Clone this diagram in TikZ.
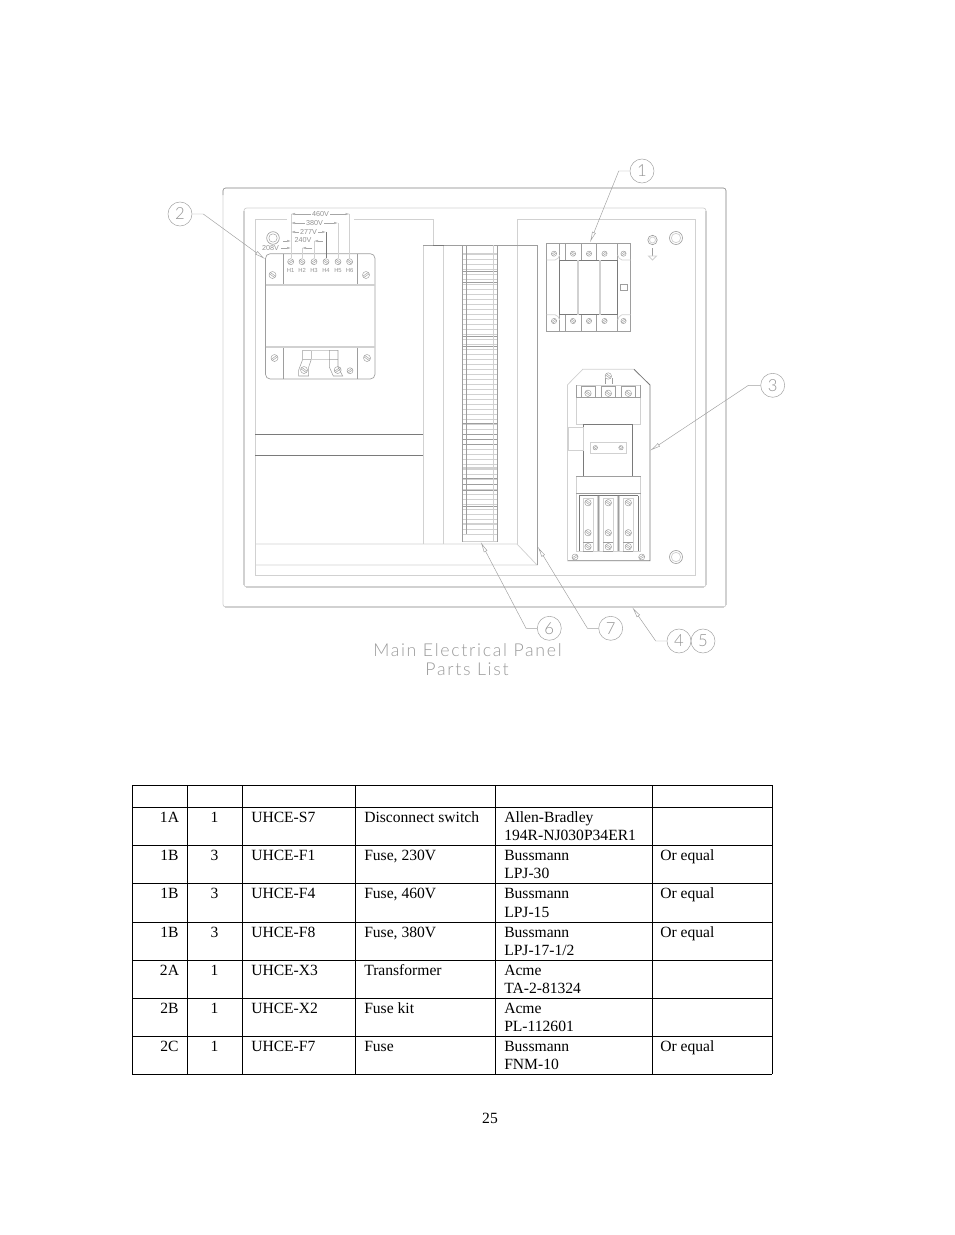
\documentclass[tikz,border=0pt]{standalone}
\usepackage{fontspec}
\usetikzlibrary{arrows.meta}
\setmainfont{Liberation Serif}
\newfontfamily\cadfont{Lato Light}[LetterSpace=9.5]
\newfontfamily\cadnum{Lato Light}
\newfontfamily\cadsmall{Liberation Sans}
\definecolor{lgray}{gray}{0.82}
\definecolor{mgray}{gray}{0.62}
\definecolor{dgray}{gray}{0.48}
\tikzset{
  pl/.style={draw=lgray,line width=.55pt},
  plt/.style={draw=lgray,line width=1.1pt},
  pm/.style={draw=mgray,line width=.5pt},
  pd/.style={draw=dgray,line width=.6pt},
  leader/.style={draw=gray!75,line width=.35pt,-{Latex[open,length=8pt,width=3pt]}},
  callout/.style={circle,draw=gray!70,line width=.4pt,minimum size=18pt,inner sep=0pt,text=gray!85,font=\cadnum\fontsize{12.5}{13}\selectfont},
  cell/.style={anchor=base west,inner sep=0pt,font=\fontsize{11.7}{12}\selectfont},
  ccell/.style={anchor=base,inner sep=0pt,font=\fontsize{11.7}{12}\selectfont},
  tline/.style={draw=black,line width=.6pt},
  vlab/.style={inner sep=.8pt,fill=white,text=gray!85,font=\cadsmall\fontsize{5.4}{6}\selectfont},
  hlab/.style={anchor=base,inner sep=0pt,text=gray!85,font=\cadsmall\fontsize{4.4}{5}\selectfont},
  wlab/.style={inner sep=0pt,text=gray!85,font=\cadsmall\fontsize{5.4}{6}\selectfont},
  title/.style={inner sep=0pt,text=gray!80,font=\cadfont\fontsize{13.3}{14}\selectfont},
  dimarrow/.style={draw=gray!70,line width=.35pt,{Latex[open,length=3pt,width=1.8pt]}-{Latex[open,length=3pt,width=1.8pt]}},
  dimone/.style={draw=gray!70,line width=.35pt,-{Latex[open,length=3pt,width=1.8pt]}}
}
\newcommand{\scr}[4][3]{\draw[pm,line width=.35pt] (#2,#3) circle (#1);
  \begin{scope}[shift={(#2,#3)},rotate=#4]
  \draw[mgray,line width=.35pt] (-#1,-.8) -- (#1,-.8) (-#1,.8) -- (#1,.8);
  \end{scope}}
\begin{document}
\begin{tikzpicture}[x=.75pt,y=-.75pt]
\useasboundingbox (0,0) rectangle (954,1235);
% enclosure
\draw[pl,rounded corners=2pt] (223,607) -- (223,188) -- (726,188) -- (726,607) -- cycle;
\draw[pm,rounded corners=2pt] (223,195) -- (223,188) -- (726,188) -- (726,195);
\draw[plt] (225,607) -- (724,607);
\draw[plt] (726,192) -- (726,605);
\draw[pl,rounded corners=2pt] (244,587) -- (244,208) -- (706,208) -- (706,587) -- cycle;
\draw[plt] (246,587) -- (704,587);
\draw[plt] (706,211) -- (706,585);
\draw[plt] (244,211) -- (244,585);
% backplate
\draw[pl] (287,219) -- (255,219) -- (255,575) -- (695,575) -- (695,219) -- (517,219) -- (517,245);
\draw[pl] (354,219) -- (433,219) -- (433,245);
\draw[pd] (255,434.5) -- (423,434.5) (255,455.5) -- (423,455.5);
\draw[pl] (255,544) -- (517,544) -- (537,565) -- (255,565);
% duct
\draw[pl] (423,245) -- (423,544) (443.5,245) -- (443.5,544) (517,245) -- (517,544);
\draw[pm] (423,245) -- (537,245) -- (537,565);
\draw[pd,line width=.7pt] (433,245) -- (444,245);
\foreach \yy in {254,259,...,534} \draw[pl,line width=.45pt] (462.5,\yy) -- (497.3,\yy);
\draw[plt,line width=2pt] (462.5,254) -- (497.3,254) (462.5,468) -- (497.3,468) (462.5,524) -- (497.3,524);
\foreach \yy in {271,282,336,346,423,434,439,444,478,484,490,506} \draw[pm,line width=.45pt] (462.5,\yy) -- (497.3,\yy);
\draw[pl] (462.5,541.7) -- (497.3,541.7) (493,245) -- (493,541.7);
\draw[pm] (462.5,245) -- (462.5,541.7) (466.5,245) -- (466.5,534) (497.3,245) -- (497.3,541.7);
% transformer
\draw[pm,rounded corners=3.5pt] (265.5,253.7) rectangle (375,379);
\draw[pm] (283,253.7) -- (283,285) (357,253.7) -- (357,285) (283,347) -- (283,379) (357,347) -- (357,379);
\draw[pl,line width=1pt] (265.5,285) -- (375,285) (265.5,347) -- (375,347);
\foreach \xx/\aa in {290.7/30,302/-35,314/30,326/-35,338/-35,349.6/-35} \scr{\xx}{261.7}{\aa};
\node[hlab] (h1) at (290.7,272) {H1};
\node[hlab] (h2) at (302.2,272) {H2};
\node[hlab] (h3) at (314,272) {H3};
\node[hlab] (h4) at (326,272) {H4};
\node[hlab] (h5) at (338,272) {H5};
\node[hlab] (h6) at (349.6,272) {H6};
\scr[3.5]{272.5}{275}{-35}
\scr[3.5]{366}{275}{35}
\scr[3.5]{274.5}{358}{35}
\scr[3.5]{367}{358}{-35}
\draw[pm,line width=.4pt] (302.7,359.3) -- (302.7,350.3) -- (311.3,350.3) -- (311.3,359.3) (302.7,359.3) -- (311.3,359.3) -- (308.7,367) -- (308.7,376) -- (298.7,376) -- (298.7,370) -- cycle;
\draw[pm,line width=.4pt] (329.3,359.3) -- (329.3,350.3) -- (338,350.3) -- (338,359.3) (329.3,359.3) -- (338,359.3) -- (338,367) -- (342.7,376) -- (333.3,376) -- (329.3,367) -- cycle;
\draw[pl] (311.3,350.3) -- (329.3,350.3) (311.3,359.3) -- (329.3,359.3);
\scr[3.5]{304}{370}{-35}
\scr[3.5]{337.7}{370}{35}
\scr[3]{350}{370.7}{35}
% nut and voltage dimensions
\draw[pm] (273,238) circle (6.3);
\draw[pm,line width=.35pt] (273,238) circle (4.2);
\foreach \xx/\yy in {291/214,302/248,314/241,338/223,349.6/214} \draw[pl] (\xx,\yy) -- (\xx,258);
\draw[pl] (291,214) -- (291,258);
\draw[pd] (326,232) -- (326,258);
\draw[dimarrow] (291,214) -- (349.6,214);
\draw[dimarrow] (291,223) -- (338,223);
\draw[dimarrow] (291,232) -- (326,232);
\draw[dimone] (283,241) -- (291,241);
\draw[dimone] (323,241) -- (314,241);
\draw[dimone] (312,248) -- (302,248);
\draw[dimone] (281,248) -- (291,248);
\node[vlab] (v460) at (320.5,214.5) {460V};
\node[vlab] (v380) at (314.5,223.5) {380V};
\node[vlab] (v277) at (308.5,232) {277V};
\node[wlab] (v240) at (303,240.5) {240V};
\node[wlab] (v208) at (270.5,248.5) {208V};
% disconnect switch
\draw[pm] (546.7,243.3) rectangle (630.7,331.7);
\draw[pd,line width=.7pt] (559.7,260) rectangle (617.7,314.7);
\draw[pl,line width=.9pt] (578,260) -- (578,314.7) (600,260) -- (600,314.7);
\foreach \xx in {559.7,565.5,581.3,596.7,617.7}{\draw[pm] (\xx,243.3) -- (\xx,260) (\xx,314.7) -- (\xx,331.7);}
\draw[pl] (546.7,260) -- (555,260) to[bend right=30] (559.7,255);
\draw[pl] (630.7,260) -- (622,260) to[bend left=30] (617.7,255);
\draw[pl] (546.7,314.7) -- (555,314.7) to[bend left=30] (559.7,320);
\draw[pl] (630.7,314.7) -- (622,314.7) to[bend right=30] (617.7,320);
\foreach \xx/\aa in {554/35,573/-35,589/35,604.5/35,623.5/35}{\scr[2.6]{\xx}{253.7}{\aa}\scr[2.6]{\xx}{321}{\aa}}
\draw[pm] (620.3,284) rectangle (627,290.5);
% ground and bushing
\draw[pm] (652.5,240) circle (4.7);
\draw[pl] (652.5,240) circle (3);
\draw[pm] (652.5,248) -- (652.5,256);
\draw[pl] (648.5,256) -- (656.5,256) -- (652.5,260) -- cycle;
\draw[pm] (676,238) circle (6.5);
\draw[pl] (676,238) circle (4.7);
% starter
\draw[pl] (567.3,385) -- (582.7,369.3) -- (634,369.3);
\draw[pd] (634,369.3) -- (650,385) -- (650,560.7) -- (567.3,560.7);
\draw[pl] (567.3,385) -- (567.3,560.7);
\draw[pl] (576.3,385) rectangle (640.7,424);
\draw[pm] (576.3,397.7) -- (640.7,397.7) (576.3,385) -- (576.3,397.7) (640.7,385) -- (640.7,397.7);
\foreach \xx in {588,608.3,628.3}{\draw[pm,line width=.4pt] (\xx-7,386) -- (\xx-7,397.7) (\xx+7,386) -- (\xx+7,397.7) (\xx-7,386) -- (\xx+7,386); \scr[3.2]{\xx}{393.3}{-35}}
\scr[3.2]{608.3}{376}{-35}
\draw[pm] (605,378) -- (605,384) (612,378) -- (612,384);
\draw[pd] (583.3,424) -- (583.3,476.7) (632.7,424) -- (632.7,476.7) (583.3,424) -- (632.7,424);
\draw[pl] (568.3,427.3) rectangle (583.3,450);
\draw[pl] (590.7,442.3) rectangle (626.7,453.3);
\scr[2.2]{595.3}{447.7}{30}
\scr[2.2]{621}{447.7}{-30}
\draw[pl] (576.3,476.7) rectangle (640.7,551.3);
\draw[pm] (576.3,476.7) -- (640.7,476.7) (576.3,493.3) -- (640.7,493.3);
\draw[pd] (579.3,495.7) -- (638.3,495.7) (579.3,495.7) -- (579.3,551.3) (638.3,495.7) -- (638.3,551.3);
\foreach \xx in {597.3,599.3,617.7,619.3} \draw[pl] (\xx,495.7) -- (\xx,551.3);
\draw[pm] (598,495.7) -- (598,551.3) (618.5,495.7) -- (618.5,551.3);
\foreach \xx in {588,608.3,628.3}{
  \draw[pl] (\xx-5,498) -- (\xx+5,498) -- (\xx+5,551.3) (\xx-5,498) -- (\xx-5,551.3);
  \draw[pm,line width=.4pt] (\xx-5,542) -- (\xx+5,542) (\xx-5,551) -- (\xx+5,551);
  \scr[3.2]{\xx}{502.7}{-35}
  \scr[3.2]{\xx}{532.7}{-35}
  \scr[3.2]{\xx}{546.7}{-35}}
\scr[3]{575}{557}{30}
\scr[3]{641.7}{557}{30}
\draw[pm] (676,557) circle (6.5);
\draw[pl] (676,557) circle (4.7);
% callouts
\node[callout] (c1) at (642,171) {1};
\node[callout] (c2) at (180,214) {2};
\node[callout] (c3) at (772.7,385.3) {3};
\node[callout] (c4) at (679,641) {4};
\node[callout] (c5) at (703,641) {5};
\node[callout] (c6) at (549.3,628.3) {6};
\node[callout] (c7) at (610.7,628.3) {7};
\coordinate (t1) at (590,242.3);
\coordinate (t2) at (265,259);
\coordinate (t3) at (650,450.7);
\coordinate (t4) at (632.3,607.3);
\coordinate (t6) at (480.7,542);
\coordinate (t7) at (537.7,546.7);
\draw[leader] (c1.west) -- ++(-11,0) -- (t1);
\draw[leader] (c2.east) -- ++(11,0) -- (t2);
\draw[leader] (c3.west) -- ++(-12,0) -- (t3);
\draw[leader] (c4.west) -- ++(-11,0) -- (t4);
\draw[leader] (c6.west) -- ++(-11,0) -- (t6);
\draw[leader] (c7.west) -- ++(-11,0) -- (t7);
% title
\node[title] (ttl1) at (467.5,650) {Main Electrical Panel};
\node[title] (ttl2) at (467,669) {Parts List};
% table
\foreach \xx in {132,187.3,242.7,355.7,495.7,652.3,772.3} \draw[tline] (\xx,785.3) -- (\xx,1074.3);
\foreach \yy in {785.3,807.3,845,883.3,922.3,960.3,998.3,1036.7,1074.3} \draw[tline] (132,\yy) -- (772.3,\yy);
\foreach \n/\bb/\ia/\qa/\pa/\da/\ma/\mb/\na in {
  1/822/1A/1/UHCE-S7/Disconnect switch/Allen-Bradley/194R-NJ030P34ER1/,
  2/860/1B/3/UHCE-F1/{Fuse, 230V}/Bussmann/LPJ-30/Or equal,
  3/898.5/1B/3/UHCE-F4/{Fuse, 460V}/Bussmann/LPJ-15/Or equal,
  4/937/1B/3/UHCE-F8/{Fuse, 380V}/Bussmann/LPJ-17-1\slash 2/Or equal,
  5/975/2A/1/UHCE-X3/Transformer/Acme/TA-2-81324/,
  6/1013/2B/1/UHCE-X2/Fuse kit/Acme/PL-112601/,
  7/1051/2C/1/UHCE-F7/Fuse/Bussmann/FNM-10/Or equal}{
  \node[ccell] (i\n) at (169.5,\bb) {\ia};
  \node[ccell] (q\n) at (214.5,\bb) {\qa};
  \node[cell] (p\n) at (251,\bb) {\pa};
  \node[cell] (d\n) at (364,\bb) {\da};
  \node[cell] (m\n) at (504,\bb) {\ma};
  \node[cell] (k\n) at (504,\bb+18.5) {\mb};
  \node[cell] (n\n) at (660,\bb) {\na};
}
\node[ccell] (pg) at (490,1123) {25};
\end{tikzpicture}
\end{document}
